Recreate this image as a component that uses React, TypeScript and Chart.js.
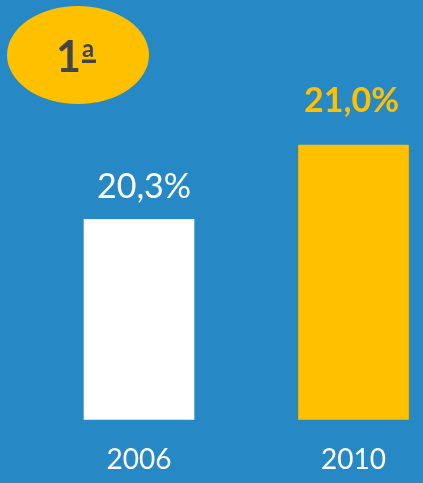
import React, { useEffect, useRef } from "react";
import { Chart, registerables } from "chart.js";

Chart.register(...registerables);

const categories = ["2006", "2010"];
const values = [20.3, 21.0];
const barColors = ["#FFFFFF", "#FFC000"];
const labelColors = ["#FFFFFF", "#FFC000"];
const labelWeights = ["400", "700"];
const rankNumber = "1";
const rankOrdinal = "a"; // rendered as underlined superscript: 1ª

const Y_MIN = 18.415;
const Y_MAX = 22.367;

const BG = "#2788C6";
const FONT = "Lato, 'Open Sans', sans-serif";

export default function App() {
  const ref = useRef<HTMLCanvasElement>(null);

  useEffect(() => {
    if (!ref.current) return;

    const labelOffsets = [
      { dx: 5, gap: 21 },
      { dx: -2, gap: 33 },
    ];

    const valueLabels = {
      id: "valueLabels",
      afterDatasetsDraw(chart: any) {
        const ctx = chart.ctx;
        const meta = chart.getDatasetMeta(0);
        ctx.save();
        ctx.textAlign = "center";
        ctx.textBaseline = "alphabetic";
        meta.data.forEach((bar: any, i: number) => {
          const v = values[i];
          const txt = v.toFixed(1).replace(".", ",") + "%";
          ctx.font = `${labelWeights[i]} 34px ${FONT}`;
          ctx.fillStyle = labelColors[i];
          ctx.fillText(txt, bar.x + labelOffsets[i].dx, bar.y - labelOffsets[i].gap);
        });
        ctx.restore();
      },
    };

    const badge = {
      id: "badge",
      afterDraw(chart: any) {
        const ctx = chart.ctx;
        ctx.save();
        ctx.beginPath();
        ctx.ellipse(78, 55, 71, 49, 0, 0, Math.PI * 2);
        ctx.fillStyle = "#FFC000";
        ctx.fill();
        ctx.fillStyle = "#454545";
        ctx.textAlign = "left";
        ctx.textBaseline = "alphabetic";
        ctx.font = `700 43px ${FONT}`;
        const m1 = ctx.measureText(rankNumber);
        ctx.fillText(rankNumber, 58 + m1.actualBoundingBoxLeft, 72);
        ctx.font = `700 24px ${FONT}`;
        const m2 = ctx.measureText(rankOrdinal);
        ctx.fillText(rankOrdinal, 82 + m2.actualBoundingBoxLeft, 57);
        ctx.fillRect(82, 59.5, 14, 3.5);
        ctx.restore();
      },
    };

    const chart = new Chart(ref.current, {
      type: "bar",
      data: {
        labels: categories,
        datasets: [
          {
            data: values,
            backgroundColor: barColors,
            borderWidth: 0,
            barThickness: 110,
            base: Y_MIN,
            clip: false as any,
          },
        ],
      },
      options: {
        animation: false,
        responsive: false,
        maintainAspectRatio: false,
        layout: { padding: { left: 139, right: 69.5, top: 0, bottom: 0 } },
        plugins: {
          legend: { display: false },
          tooltip: { enabled: false },
        },
        scales: {
          x: {
            type: "category",
            offset: false,
            grid: { display: false, drawTicks: false },
            border: { display: false },
            ticks: {
              color: "#FFFFFF",
              font: { family: FONT, size: 28 },
              padding: 24,
              maxRotation: 0,
              autoSkip: false,
            },
            afterFit(scale: any) {
              scale.height = 63.7;
            },
          },
          y: {
            display: false,
            min: Y_MIN,
            max: Y_MAX,
          },
        },
      },
      plugins: [valueLabels, badge],
    });

    return () => chart.destroy();
  }, []);

  return (
    <div
      style={{
        position: "fixed",
        left: 0,
        top: 0,
        width: 423,
        height: 483,
        background: BG,
      }}
    >
      <canvas ref={ref} width={423} height={483} style={{ display: "block" }} />
    </div>
  );
}
